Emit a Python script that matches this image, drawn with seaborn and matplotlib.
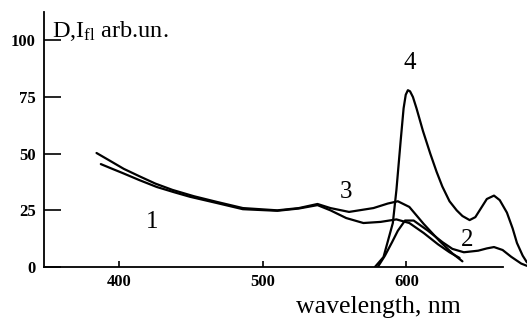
import matplotlib
matplotlib.use("Agg")
import matplotlib.pyplot as plt
import seaborn as sns
import pandas as pd

# ---- data ----
curve1_wl = [387, 395, 402, 414, 426, 438, 449, 468, 486, 510, 525, 538, 547, 558, 570, 582, 593, 602, 612, 622, 630, 637]
curve1_v = [45.4, 43.3, 41.5, 38.3, 35.3, 33.0, 31, 28.2, 25.5, 24.8, 25.8, 27.3, 25, 21.6, 19.4, 19.9, 21, 19.4, 15, 10, 6.5, 4]

curve3_wl = [384, 393, 403, 414, 425, 437, 452, 468, 486, 510, 525, 538, 547, 560, 577, 587, 594, 602, 612, 623, 632, 639]
curve3_v = [50.3, 47, 43.3, 40, 36.8, 34, 31.2, 28.7, 26, 25, 26, 27.8, 26, 24.3, 26, 28, 29, 26.5, 19, 11.5, 6, 2.5]

curve2_wl = [580, 585, 590, 594, 599, 605, 615, 625, 632, 640, 650, 656, 661, 667, 673, 680, 684]
curve2_v = [0, 5, 11, 16, 20.5, 20.5, 16, 11, 8, 6.5, 7.2, 8.2, 8.8, 7.5, 4.5, 1.5, 0.5]

curve4_wl = [578, 584, 590.5, 593, 596, 598, 599.5, 601, 602.5, 604.5, 607, 611.5, 616.6, 621, 625, 630, 635, 639, 644, 648, 652, 656, 661, 665, 670, 674, 677, 681, 684]
curve4_v = [0, 4.4, 19.4, 34, 56, 70, 76, 78, 77.5, 75, 70, 60, 50, 42, 35.5, 29, 25, 22.5, 20.7, 22, 26, 30, 31.5, 29.5, 24, 17, 10.6, 5, 2]

curve_labels = ["1", "2", "3", "4"]
label_wl = [423, 642, 558, 602]
label_v = [19.8, 12, 33, 90]

x_ticks = [400, 500, 600]
y_ticks = [0, 25, 50, 75, 100]
x_label = "wavelength, nm"
y_label = r"D,I$_{\mathrm{fl}}$ arb.un."

frames = []
for name, wl, v in [("1", curve1_wl, curve1_v), ("3", curve3_wl, curve3_v),
                    ("2", curve2_wl, curve2_v), ("4", curve4_wl, curve4_v)]:
    frames.append(pd.DataFrame({"wl": wl, "v": v, "curve": name, "order": range(len(wl))}))
df = pd.concat(frames, ignore_index=True)

sns.set_theme(style="white")
plt.rcParams["font.family"] = ["Liberation Serif", "DejaVu Serif"]
plt.rcParams["mathtext.fontset"] = "custom"
plt.rcParams["mathtext.rm"] = "Liberation Serif"
plt.rcParams["mathtext.it"] = "Liberation Serif:italic"

fig = plt.figure(figsize=(5.27, 3.26), dpi=100)
ax = fig.add_axes([44 / 527, 59 / 326, 483 / 527, 255 / 326])

sns.lineplot(data=df, x="wl", y="v", units="curve", estimator=None, sort=False,
             color="black", linewidth=1.6, ax=ax, legend=False)

ax.set_xlim(347.4, 684)
ax.set_ylim(0, 112.5)

for s in ["top", "right"]:
    ax.spines[s].set_visible(False)
for s in ["left", "bottom"]:
    ax.spines[s].set_color("black")
    ax.spines[s].set_linewidth(1.3)
ax.spines["bottom"].set_bounds(347.4, 667)

ax.set_xticks(x_ticks)
ax.set_yticks(y_ticks)
ax.set_xticklabels([str(t) for t in x_ticks], fontsize=12, fontweight="bold")
ax.set_yticklabels([str(t) for t in y_ticks], fontsize=12, fontweight="bold")
ax.tick_params(axis="y", left=True, direction="in", length=12, width=1.2, pad=6, colors="black")
ax.tick_params(axis="x", bottom=True, direction="in", length=4, width=1.2, pad=5, colors="black")

ax.set_xlabel(x_label, fontsize=18.5, color="black")
ax.xaxis.label.set_va("center")
ax.xaxis.set_label_coords((378 - 44) / 483, -0.157)
ax.set_ylabel("")

ax.text(353, 101.5, y_label, fontsize=17.5, ha="left", va="baseline", color="black")

for lab, lx, ly in zip(curve_labels, label_wl, label_v):
    ax.text(lx, ly, lab, fontsize=18, ha="center", va="center", color="black")

fig.savefig("out.png", dpi=100, facecolor="white")
